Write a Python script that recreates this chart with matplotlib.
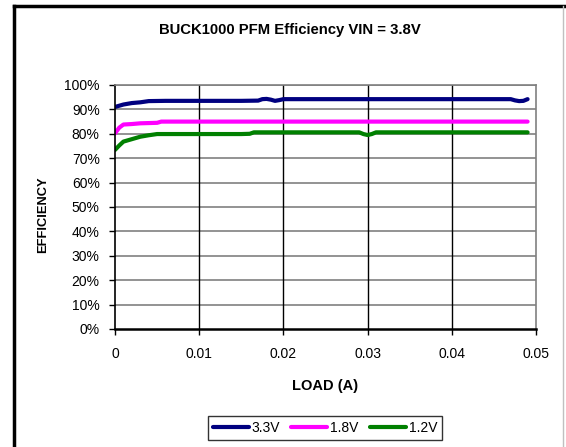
import numpy as np
import matplotlib
matplotlib.use("Agg")
import matplotlib.pyplot as plt
from matplotlib.lines import Line2D
from matplotlib.ticker import PercentFormatter

plt.rcParams['font.family'] = ['Liberation Sans', 'DejaVu Sans']

#! data (load in A, efficiency in %)
load_33 = [0.0, 0.001, 0.002, 0.003, 0.004, 0.006, 0.010, 0.015, 0.017, 0.0175,
           0.018, 0.0185, 0.019, 0.0195, 0.020, 0.025, 0.030, 0.035, 0.040, 0.045,
           0.047, 0.0475, 0.048, 0.0485, 0.049]
eff_33 = [91.0, 92.0, 92.6, 92.9, 93.4, 93.5, 93.5, 93.5, 93.6, 94.2,
          94.3, 94.0, 93.5, 93.8, 94.2, 94.2, 94.2, 94.2, 94.2, 94.2,
          94.2, 93.7, 93.4, 93.5, 94.2]

load_18 = [0.0, 0.0005, 0.001, 0.002, 0.003, 0.004, 0.005, 0.0055, 0.010, 0.020,
           0.030, 0.040, 0.049]
eff_18 = [80.2, 82.5, 83.8, 84.0, 84.3, 84.4, 84.5, 85.0, 85.0, 85.0,
          85.0, 85.0, 85.0]

load_12 = [0.0, 0.0005, 0.001, 0.002, 0.003, 0.004, 0.005, 0.010, 0.015, 0.016,
           0.0165, 0.020, 0.025, 0.029, 0.0295, 0.030, 0.0305, 0.031, 0.035, 0.040,
           0.045, 0.049]
eff_12 = [73.4, 75.2, 76.8, 77.8, 78.8, 79.4, 79.9, 79.9, 79.9, 80.0,
          80.6, 80.6, 80.6, 80.6, 79.9, 79.5, 79.9, 80.6, 80.6, 80.6,
          80.6, 80.6]

series = [
    ("3.3V", load_33, eff_33, "#000080"),
    ("1.8V", load_18, eff_18, "#FF00FF"),
    ("1.2V", load_12, eff_12, "#008000"),
]


def main():
    fig = plt.figure(figsize=(5.66, 4.47), dpi=100)
    W, H = 566, 447
    ax = fig.add_axes([115 / W, 1 - 329 / H, (536 - 115) / W, (329 - 85) / H])

    for name, x, y, col in series:
        ax.plot(x, y, color=col, lw=3.0, label=name, solid_capstyle='round')

    ax.set_xlim(0, 0.05)
    ax.set_ylim(0, 100)
    ax.set_xticks(np.arange(0, 0.051, 0.01))
    ax.set_xticklabels(["0", "0.01", "0.02", "0.03", "0.04", "0.05"])
    ax.set_yticks(np.arange(0, 101, 10))
    ax.yaxis.set_major_formatter(PercentFormatter(decimals=0))

    #! gridlines like the excel chart
    for v in np.arange(10, 101, 10):
        ax.axhline(v, color="#808080", lw=1.2, zorder=0)
    for v in np.arange(0.01, 0.05, 0.01):
        ax.axvline(v, color="black", lw=1.0, zorder=0)

    for s in ["top", "right"]:
        ax.spines[s].set_color("#808080")
        ax.spines[s].set_linewidth(1.2)
    ax.spines["left"].set_linewidth(1.2)
    ax.spines["bottom"].set_linewidth(1.8)

    ax.tick_params(labelsize=10, length=4, width=1, direction='out', pad=7)
    ax.tick_params(axis='x', pad=9)

    ax.set_xlabel("LOAD (A)", fontsize=10.5, fontweight='bold', labelpad=13)
    fig.text(43 / W, 1 - 215 / H, "EFFICIENCY", rotation=90, ha='center', va='center',
             fontsize=9.3, fontweight='bold')
    fig.text(290 / W, 1 - 30 / H, "BUCK1000 PFM Efficiency VIN = 3.8V",
             ha='center', va='center', fontsize=10.7, fontweight='bold')

    leg = fig.legend(loc='center', bbox_to_anchor=(325 / W, 1 - 428 / H), ncol=3,
                     fontsize=10, frameon=True, fancybox=False, handlelength=2.6,
                     handletextpad=0.2, columnspacing=0.8, borderpad=0.35)
    leg.get_frame().set_edgecolor("black")
    leg.get_frame().set_linewidth(1.0)

    #! outer chart border (top and left visible)
    fig.add_artist(Line2D([14 / W, 14 / W], [0, 1 - 6 / H], color="black", lw=2.5,
                          transform=fig.transFigure))
    fig.add_artist(Line2D([14 / W, 1], [1 - 6 / H, 1 - 6 / H], color="black", lw=2.5,
                          transform=fig.transFigure))
    fig.add_artist(Line2D([563 / W, 563 / W], [0, 1 - 6 / H], color="#c0c0c0", lw=1,
                          transform=fig.transFigure))

    fig.savefig("out.png", dpi=100)


if __name__ == "__main__":
    main()
